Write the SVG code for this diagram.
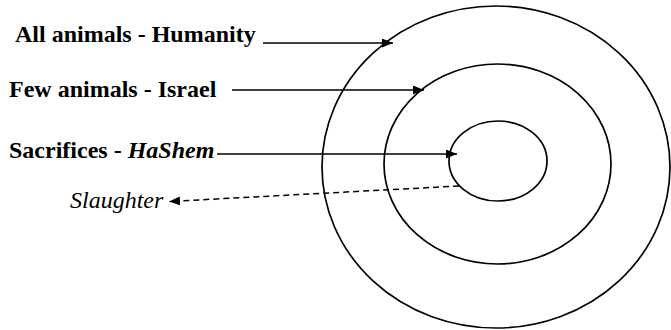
<svg xmlns="http://www.w3.org/2000/svg" width="671" height="330" viewBox="0 0 671 330">
<style>
.lbl{font-family:"Liberation Serif","Times New Roman","DejaVu Serif",serif;font-size:24px;fill:#000}
.b{font-weight:bold}
.i{font-style:italic}
.ring{fill:none;stroke:#000;stroke-width:1.7}
.arr{fill:none;stroke:#000;stroke-width:1.5}
.dash{stroke-dasharray:6 4}
</style>
<defs>
<marker id="ah" viewBox="0 0 11 9" refX="11" refY="4.5" markerWidth="11" markerHeight="9" markerUnits="userSpaceOnUse" orient="auto">
<path d="M0,0 L11,4.5 L0,9 Z" fill="#000"/>
</marker>
</defs>
<g id="outer"><ellipse class="ring" cx="496" cy="167" rx="174" ry="161"/></g>
<g id="middle"><ellipse class="ring" cx="497.5" cy="164" rx="113.5" ry="100"/></g>
<g id="inner"><ellipse class="ring" cx="498" cy="161" rx="49" ry="40"/></g>
<g id="label-humanity"><text class="lbl b" x="15" y="42">All animals - Humanity</text></g>
<g id="label-israel"><text class="lbl b" x="9" y="97">Few animals - Israel</text></g>
<g id="label-hashem"><text class="lbl b" x="9" y="158">Sacrifices - <tspan class="i">HaShem</tspan></text></g>
<g id="label-slaughter"><text class="lbl i" x="70" y="208">Slaughter</text></g>
<g id="connectors">
<line class="arr" x1="263" y1="43" x2="393" y2="43" marker-end="url(#ah)"/>
<line class="arr" x1="232" y1="90" x2="424" y2="90" marker-end="url(#ah)"/>
<line class="arr" x1="217" y1="154" x2="457" y2="154" marker-end="url(#ah)"/>
<line class="arr dash" x1="459" y1="186" x2="169" y2="201.5" marker-end="url(#ah)"/>
</g>
</svg>
